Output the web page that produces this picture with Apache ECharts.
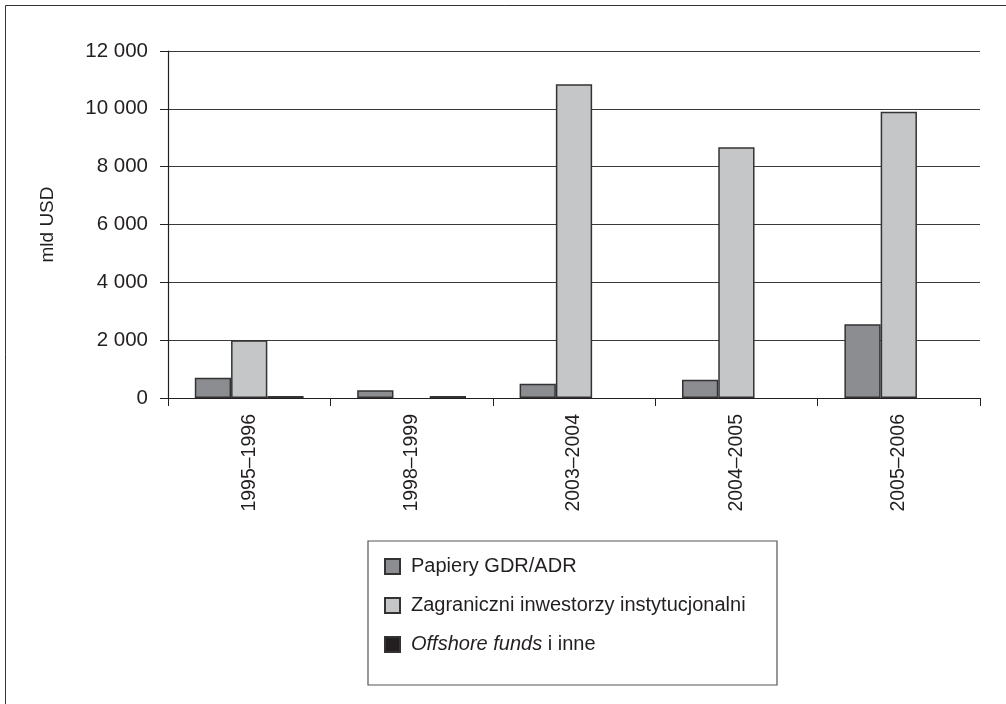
<!DOCTYPE html>
<html>
<head>
<meta charset="utf-8">
<script src="https://cdn.jsdelivr.net/npm/echarts@6/dist/echarts.min.js"></script>
<style>
  html, body { margin: 0; padding: 0; background: #fff; }
  #chart { width: 1006px; height: 704px; }
</style>
</head>
<body>
<div id="chart"></div>
<script>
// Periods on the category axis
const categories = ['1995–1996', '1998–1999', '2003–2004', '2004–2005', '2005–2006'];

// Values in mld USD
const gdrAdr = [700, 270, 490, 630, 2550];
const foreignInstitutional = [2000, null, 10850, 8670, 9900];
const offshoreFunds = [70, 70, null, null, null];

// Y-axis ticks
const yTicks = [0, 2000, 4000, 6000, 8000, 10000, 12000];

const seriesNames = ['Papiery GDR/ADR', 'Zagraniczni inwestorzy instytucjonalni', 'Offshore funds i inne'];
const fillColors = ['#8c8d91', '#c5c6c8', '#231f20'];

const FONT = '"Liberation Sans", Arial, sans-serif';
const TEXT = '#231f20';

function fmt(v) {
  return String(v).replace(/\B(?=(\d{3})+(?!\d))/g, ' ');
}

const chart = echarts.init(document.getElementById('chart'), null, { renderer: 'canvas' });

const dataSets = [gdrAdr, foreignInstitutional, offshoreFunds];

chart.setOption({
  animation: false,
  backgroundColor: '#fff',
  textStyle: { fontFamily: FONT, color: TEXT },
  grid: { left: 168, right: 26, top: 51, bottom: 306, containLabel: false },
  xAxis: {
    type: 'category',
    data: categories,
    axisLine: { lineStyle: { color: '#231f20', width: 1.2 } },
    axisTick: { show: true, length: 8, alignWithLabel: false, lineStyle: { color: '#231f20' } },
    axisLabel: { rotate: 90, margin: 16, fontSize: 19.5, color: TEXT, fontFamily: FONT }
  },
  yAxis: {
    type: 'value',
    min: yTicks[0],
    max: yTicks[yTicks.length - 1],
    interval: yTicks[1] - yTicks[0],
    name: 'mld USD',
    nameLocation: 'middle',
    nameGap: 111,
    nameRotate: 90,
    nameTextStyle: { fontSize: 19, color: TEXT, fontFamily: FONT },
    axisLine: { show: true, lineStyle: { color: '#231f20', width: 1.2 } },
    axisTick: { show: true, inside: false, length: 8, lineStyle: { color: '#231f20' } },
    axisLabel: { margin: 20, fontSize: 20.5, color: TEXT, fontFamily: FONT, formatter: v => fmt(v) },
    splitLine: { show: true, lineStyle: { color: '#3a3a3a', width: 1.2 } }
  },
  legend: {
    orient: 'vertical',
    left: 384,
    top: 556,
    padding: 0,
    itemWidth: 15,
    itemHeight: 15,
    itemGap: 18,
    icon: 'rect',
    selectedMode: false,
    textStyle: {
      fontSize: 20,
      lineHeight: 21,
      color: TEXT,
      fontFamily: FONT,
      padding: [0, 0, 0, 6],
      rich: { it: { fontStyle: 'italic', fontSize: 20, lineHeight: 21, color: TEXT, fontFamily: FONT } }
    },
    formatter: name => name === seriesNames[2] ? '{it|Offshore funds} i inne' : name,
    data: seriesNames
  },
  graphic: [
    { type: 'rect', shape: { x: 368, y: 541, width: 409, height: 144 },
      style: { fill: 'none', stroke: '#555', lineWidth: 1.2 }, z: -1 },
    { type: 'polyline', shape: { points: [[5.5, 704], [5.5, 5.5], [1006, 5.5]] },
      style: { fill: 'none', stroke: '#333', lineWidth: 1 } }
  ],
  series: seriesNames.map((name, i) => ({
    name,
    type: 'bar',
    data: dataSets[i],
    barGap: '0%',
    barCategoryGap: '33%',
    itemStyle: { color: fillColors[i], borderColor: '#333', borderWidth: 1.5 }
  }))
});
</script>
</body>
</html>
